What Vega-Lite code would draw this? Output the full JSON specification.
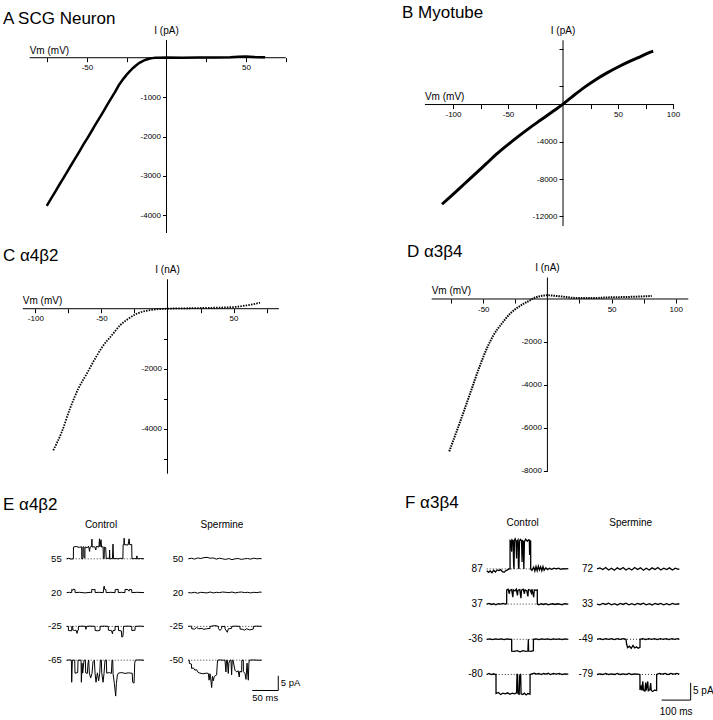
{
"$schema":"https://vega.github.io/schema/vega-lite/v6.json",
"background":"white",
"padding":{"left":3,"top":3,"right":0,"bottom":0},
"bounds":"flush",
"columns":2,
"spacing":{"row":44,"column":100},
"resolve":{"scale":{"xOffset":"independent","yOffset":"independent"}},
"config":{"view":{"stroke":null},"font":"Liberation Sans",
 "axis":{"domain":false,"grid":false,"tickColor":"black","tickSize":4,"tickWidth":1,"labelColor":"black","labelFontSize":8,"labelPadding":2,"labelOverlap":false,"labelFlush":false},
 "title":{"fontWeight":"normal","color":"black","anchor":"start","frame":"group","baseline":"alphabetic","fontSize":17}},
"datasets":{
"eTr":[
{"c":"Control","r":"r1","t":0,"i":0},{"c":"Control","r":"r1","t":4,"i":0.2},{"c":"Control","r":"r1","t":8,"i":-0.1},{"c":"Control","r":"r1","t":12.8,"i":0},{"c":"Control","r":"r1","t":13,"i":4.0},{"c":"Control","r":"r1","t":18,"i":4.2},{"c":"Control","r":"r1","t":24,"i":3.9},{"c":"Control","r":"r1","t":28.8,"i":4.1},{"c":"Control","r":"r1","t":29,"i":0},{"c":"Control","r":"r1","t":31,"i":0},{"c":"Control","r":"r1","t":31.2,"i":4.0},{"c":"Control","r":"r1","t":33,"i":4.1},{"c":"Control","r":"r1","t":33.2,"i":0.5},{"c":"Control","r":"r1","t":35,"i":0.3},{"c":"Control","r":"r1","t":35.2,"i":4.0},{"c":"Control","r":"r1","t":40,"i":3.8},{"c":"Control","r":"r1","t":42,"i":4.3},{"c":"Control","r":"r1","t":44,"i":2.5},{"c":"Control","r":"r1","t":45,"i":4.0},{"c":"Control","r":"r1","t":48,"i":4.2},{"c":"Control","r":"r1","t":48.5,"i":6.7},{"c":"Control","r":"r1","t":49,"i":4.0},{"c":"Control","r":"r1","t":54,"i":4.1},{"c":"Control","r":"r1","t":56,"i":3.0},{"c":"Control","r":"r1","t":57,"i":4.2},{"c":"Control","r":"r1","t":62,"i":4.0},{"c":"Control","r":"r1","t":63,"i":6.8},{"c":"Control","r":"r1","t":64,"i":4.1},{"c":"Control","r":"r1","t":66,"i":6.5},{"c":"Control","r":"r1","t":67,"i":4.0},{"c":"Control","r":"r1","t":70,"i":4.1},{"c":"Control","r":"r1","t":70.5,"i":0.2},{"c":"Control","r":"r1","t":72,"i":0},{"c":"Control","r":"r1","t":72.5,"i":4.0},{"c":"Control","r":"r1","t":75,"i":3.8},{"c":"Control","r":"r1","t":76,"i":0.1},{"c":"Control","r":"r1","t":80,"i":0.2},{"c":"Control","r":"r1","t":82,"i":0},{"c":"Control","r":"r1","t":82.5,"i":3.0},{"c":"Control","r":"r1","t":83,"i":0},{"c":"Control","r":"r1","t":88,"i":0.1},{"c":"Control","r":"r1","t":89,"i":5.0},{"c":"Control","r":"r1","t":90,"i":0},{"c":"Control","r":"r1","t":93,"i":0.1},{"c":"Control","r":"r1","t":100,"i":0},{"c":"Control","r":"r1","t":104,"i":0.2},{"c":"Control","r":"r1","t":108,"i":0},{"c":"Control","r":"r1","t":108.5,"i":4.8},{"c":"Control","r":"r1","t":110,"i":4.9},{"c":"Control","r":"r1","t":110.5,"i":7.0},{"c":"Control","r":"r1","t":111,"i":4.8},{"c":"Control","r":"r1","t":118,"i":4.7},{"c":"Control","r":"r1","t":120,"i":6.8},{"c":"Control","r":"r1","t":121,"i":4.8},{"c":"Control","r":"r1","t":125,"i":4.9},{"c":"Control","r":"r1","t":125.5,"i":0},{"c":"Control","r":"r1","t":130,"i":0.1},{"c":"Control","r":"r1","t":134,"i":0},{"c":"Control","r":"r1","t":135,"i":1.0},{"c":"Control","r":"r1","t":136,"i":0},{"c":"Control","r":"r1","t":142,"i":0.1},{"c":"Control","r":"r1","t":148.7,"i":0},
{"c":"Control","r":"r2","t":0,"i":0},{"c":"Control","r":"r2","t":5,"i":0.1},{"c":"Control","r":"r2","t":9.6,"i":0},{"c":"Control","r":"r2","t":9.8,"i":1.1},{"c":"Control","r":"r2","t":12,"i":0.8},{"c":"Control","r":"r2","t":13,"i":1.2},{"c":"Control","r":"r2","t":16,"i":1.0},{"c":"Control","r":"r2","t":16.2,"i":0},{"c":"Control","r":"r2","t":25,"i":0.1},{"c":"Control","r":"r2","t":35,"i":-0.1},{"c":"Control","r":"r2","t":45,"i":0.1},{"c":"Control","r":"r2","t":48,"i":0},{"c":"Control","r":"r2","t":48.2,"i":1.1},{"c":"Control","r":"r2","t":51,"i":1.0},{"c":"Control","r":"r2","t":54.5,"i":1.1},{"c":"Control","r":"r2","t":54.7,"i":0},{"c":"Control","r":"r2","t":62,"i":0.1},{"c":"Control","r":"r2","t":70.5,"i":0},{"c":"Control","r":"r2","t":70.7,"i":1.0},{"c":"Control","r":"r2","t":72,"i":2.2},{"c":"Control","r":"r2","t":73,"i":1.1},{"c":"Control","r":"r2","t":75.6,"i":1.0},{"c":"Control","r":"r2","t":75.8,"i":0},{"c":"Control","r":"r2","t":85,"i":0.1},{"c":"Control","r":"r2","t":93,"i":0},{"c":"Control","r":"r2","t":93.2,"i":1.0},{"c":"Control","r":"r2","t":99,"i":1.1},{"c":"Control","r":"r2","t":99.2,"i":0},{"c":"Control","r":"r2","t":105,"i":0.1},{"c":"Control","r":"r2","t":112,"i":0},{"c":"Control","r":"r2","t":112.2,"i":1.1},{"c":"Control","r":"r2","t":118,"i":1.0},{"c":"Control","r":"r2","t":120,"i":0.5},{"c":"Control","r":"r2","t":121,"i":1.1},{"c":"Control","r":"r2","t":125,"i":1.0},{"c":"Control","r":"r2","t":125.2,"i":0},{"c":"Control","r":"r2","t":135,"i":0.1},{"c":"Control","r":"r2","t":148.7,"i":0},
{"c":"Control","r":"r3","t":0,"i":0},{"c":"Control","r":"r3","t":3.2,"i":0},{"c":"Control","r":"r3","t":3.4,"i":-1.4},{"c":"Control","r":"r3","t":9.6,"i":-1.5},{"c":"Control","r":"r3","t":9.8,"i":0},{"c":"Control","r":"r3","t":11.5,"i":0},{"c":"Control","r":"r3","t":11.7,"i":-1.2},{"c":"Control","r":"r3","t":15,"i":-1.4},{"c":"Control","r":"r3","t":18,"i":-1.3},{"c":"Control","r":"r3","t":20,"i":-2.4},{"c":"Control","r":"r3","t":21,"i":-1.4},{"c":"Control","r":"r3","t":22.4,"i":-1.3},{"c":"Control","r":"r3","t":22.6,"i":0},{"c":"Control","r":"r3","t":30,"i":0.1},{"c":"Control","r":"r3","t":36,"i":0},{"c":"Control","r":"r3","t":37,"i":-1.0},{"c":"Control","r":"r3","t":38,"i":0},{"c":"Control","r":"r3","t":45,"i":0.1},{"c":"Control","r":"r3","t":54.5,"i":0},{"c":"Control","r":"r3","t":54.7,"i":-1.4},{"c":"Control","r":"r3","t":60,"i":-1.5},{"c":"Control","r":"r3","t":64,"i":-1.3},{"c":"Control","r":"r3","t":64.2,"i":0},{"c":"Control","r":"r3","t":72,"i":0.1},{"c":"Control","r":"r3","t":80,"i":0},{"c":"Control","r":"r3","t":80.2,"i":-1.3},{"c":"Control","r":"r3","t":86,"i":-1.4},{"c":"Control","r":"r3","t":88,"i":-2.5},{"c":"Control","r":"r3","t":89,"i":-1.4},{"c":"Control","r":"r3","t":93,"i":-1.3},{"c":"Control","r":"r3","t":93.2,"i":0},{"c":"Control","r":"r3","t":99.4,"i":0},{"c":"Control","r":"r3","t":99.6,"i":-1.4},{"c":"Control","r":"r3","t":105,"i":-1.5},{"c":"Control","r":"r3","t":106,"i":-3.6},{"c":"Control","r":"r3","t":108,"i":-3.5},{"c":"Control","r":"r3","t":109,"i":-1.4},{"c":"Control","r":"r3","t":109.2,"i":0},{"c":"Control","r":"r3","t":117,"i":0.1},{"c":"Control","r":"r3","t":125,"i":0},{"c":"Control","r":"r3","t":125.2,"i":-1.4},{"c":"Control","r":"r3","t":131.4,"i":-1.3},{"c":"Control","r":"r3","t":131.6,"i":0},{"c":"Control","r":"r3","t":140,"i":0.1},{"c":"Control","r":"r3","t":148.7,"i":0},
{"c":"Control","r":"r4","t":0,"i":0},{"c":"Control","r":"r4","t":6.4,"i":0.1},{"c":"Control","r":"r4","t":9,"i":0},{"c":"Control","r":"r4","t":9.6,"i":-7.5},{"c":"Control","r":"r4","t":10.9,"i":0},{"c":"Control","r":"r4","t":15.4,"i":0},{"c":"Control","r":"r4","t":16,"i":-4.4},{"c":"Control","r":"r4","t":21.2,"i":-4.2},{"c":"Control","r":"r4","t":21.8,"i":0},{"c":"Control","r":"r4","t":27.6,"i":0},{"c":"Control","r":"r4","t":28.2,"i":-7.5},{"c":"Control","r":"r4","t":29.5,"i":-1},{"c":"Control","r":"r4","t":30.8,"i":-4.4},{"c":"Control","r":"r4","t":33.3,"i":0},{"c":"Control","r":"r4","t":35.9,"i":0},{"c":"Control","r":"r4","t":36.5,"i":-4.3},{"c":"Control","r":"r4","t":39.7,"i":-4.5},{"c":"Control","r":"r4","t":41,"i":-1.0},{"c":"Control","r":"r4","t":42.3,"i":0},{"c":"Control","r":"r4","t":43.6,"i":-4.4},{"c":"Control","r":"r4","t":46.1,"i":-6},{"c":"Control","r":"r4","t":48.7,"i":-4.5},{"c":"Control","r":"r4","t":50.6,"i":-0.5},{"c":"Control","r":"r4","t":53.2,"i":0},{"c":"Control","r":"r4","t":54.5,"i":-4.4},{"c":"Control","r":"r4","t":56.4,"i":-7.5},{"c":"Control","r":"r4","t":59,"i":-4.3},{"c":"Control","r":"r4","t":61.5,"i":-7.0},{"c":"Control","r":"r4","t":63.5,"i":-4.5},{"c":"Control","r":"r4","t":64.7,"i":0},{"c":"Control","r":"r4","t":66.7,"i":0},{"c":"Control","r":"r4","t":67.3,"i":-4.2},{"c":"Control","r":"r4","t":69.9,"i":-7.5},{"c":"Control","r":"r4","t":71.8,"i":-4.4},{"c":"Control","r":"r4","t":73.7,"i":0},{"c":"Control","r":"r4","t":76.3,"i":0},{"c":"Control","r":"r4","t":76.9,"i":-4.4},{"c":"Control","r":"r4","t":82,"i":-4.2},{"c":"Control","r":"r4","t":85.9,"i":-4.5},{"c":"Control","r":"r4","t":87.2,"i":0},{"c":"Control","r":"r4","t":88.5,"i":0},{"c":"Control","r":"r4","t":89.1,"i":-4.5},{"c":"Control","r":"r4","t":91.7,"i":-8},{"c":"Control","r":"r4","t":94.2,"i":-12.2},{"c":"Control","r":"r4","t":95.5,"i":-8},{"c":"Control","r":"r4","t":97.5,"i":-5},{"c":"Control","r":"r4","t":99.4,"i":-4.4},{"c":"Control","r":"r4","t":105.8,"i":-4.2},{"c":"Control","r":"r4","t":112,"i":-4.5},{"c":"Control","r":"r4","t":118.3,"i":-4.3},{"c":"Control","r":"r4","t":123.4,"i":-4.4},{"c":"Control","r":"r4","t":125.9,"i":-4.4},{"c":"Control","r":"r4","t":126.9,"i":-7.5},{"c":"Control","r":"r4","t":129.5,"i":-7.8},{"c":"Control","r":"r4","t":130.8,"i":-1},{"c":"Control","r":"r4","t":132,"i":0},{"c":"Control","r":"r4","t":137.8,"i":0.1},{"c":"Control","r":"r4","t":148.7,"i":0},
{"c":"Spermine","r":"r1","t":0,"i":0},{"c":"Spermine","r":"r1","t":6,"i":0.2},{"c":"Spermine","r":"r1","t":12,"i":-0.1},{"c":"Spermine","r":"r1","t":18,"i":0.3},{"c":"Spermine","r":"r1","t":24,"i":0.1},{"c":"Spermine","r":"r1","t":30,"i":0.4},{"c":"Spermine","r":"r1","t":36,"i":0.5},{"c":"Spermine","r":"r1","t":42,"i":0.2},{"c":"Spermine","r":"r1","t":48,"i":0.3},{"c":"Spermine","r":"r1","t":54,"i":-0.1},{"c":"Spermine","r":"r1","t":60,"i":0.2},{"c":"Spermine","r":"r1","t":66,"i":0},{"c":"Spermine","r":"r1","t":72,"i":-0.2},{"c":"Spermine","r":"r1","t":78,"i":0.1},{"c":"Spermine","r":"r1","t":84,"i":-0.3},{"c":"Spermine","r":"r1","t":90,"i":0},{"c":"Spermine","r":"r1","t":96,"i":0.1},{"c":"Spermine","r":"r1","t":102,"i":-0.2},{"c":"Spermine","r":"r1","t":108,"i":0},{"c":"Spermine","r":"r1","t":114,"i":0.1},{"c":"Spermine","r":"r1","t":120,"i":-0.1},{"c":"Spermine","r":"r1","t":126,"i":0.2},{"c":"Spermine","r":"r1","t":132,"i":0},{"c":"Spermine","r":"r1","t":138,"i":0.1},{"c":"Spermine","r":"r1","t":141,"i":0},
{"c":"Spermine","r":"r2","t":0,"i":0},{"c":"Spermine","r":"r2","t":6,"i":-0.1},{"c":"Spermine","r":"r2","t":12,"i":0.1},{"c":"Spermine","r":"r2","t":18,"i":-0.2},{"c":"Spermine","r":"r2","t":24,"i":0.1},{"c":"Spermine","r":"r2","t":30,"i":0},{"c":"Spermine","r":"r2","t":36,"i":-0.1},{"c":"Spermine","r":"r2","t":42,"i":0.2},{"c":"Spermine","r":"r2","t":48,"i":-0.1},{"c":"Spermine","r":"r2","t":54,"i":0.1},{"c":"Spermine","r":"r2","t":60,"i":0},{"c":"Spermine","r":"r2","t":66,"i":0.2},{"c":"Spermine","r":"r2","t":72,"i":0.1},{"c":"Spermine","r":"r2","t":78,"i":0},{"c":"Spermine","r":"r2","t":84,"i":0.2},{"c":"Spermine","r":"r2","t":90,"i":-0.1},{"c":"Spermine","r":"r2","t":96,"i":0.1},{"c":"Spermine","r":"r2","t":102,"i":0.2},{"c":"Spermine","r":"r2","t":108,"i":0},{"c":"Spermine","r":"r2","t":114,"i":0.1},{"c":"Spermine","r":"r2","t":120,"i":-0.1},{"c":"Spermine","r":"r2","t":126,"i":0.1},{"c":"Spermine","r":"r2","t":132,"i":0},{"c":"Spermine","r":"r2","t":138,"i":0.2},{"c":"Spermine","r":"r2","t":141,"i":0.1},
{"c":"Spermine","r":"r3","t":0,"i":0},{"c":"Spermine","r":"r3","t":5,"i":0.1},{"c":"Spermine","r":"r3","t":6.4,"i":0},{"c":"Spermine","r":"r3","t":6.6,"i":-0.8},{"c":"Spermine","r":"r3","t":12,"i":-0.9},{"c":"Spermine","r":"r3","t":16,"i":-0.4},{"c":"Spermine","r":"r3","t":20,"i":-0.8},{"c":"Spermine","r":"r3","t":26,"i":-0.7},{"c":"Spermine","r":"r3","t":30,"i":-1.0},{"c":"Spermine","r":"r3","t":35,"i":-0.8},{"c":"Spermine","r":"r3","t":41.7,"i":-0.7},{"c":"Spermine","r":"r3","t":41.9,"i":0},{"c":"Spermine","r":"r3","t":48,"i":0.2},{"c":"Spermine","r":"r3","t":52,"i":0.3},{"c":"Spermine","r":"r3","t":57.7,"i":0},{"c":"Spermine","r":"r3","t":57.9,"i":-0.7},{"c":"Spermine","r":"r3","t":61,"i":-1.4},{"c":"Spermine","r":"r3","t":64.1,"i":-0.7},{"c":"Spermine","r":"r3","t":64.3,"i":0},{"c":"Spermine","r":"r3","t":70.5,"i":0},{"c":"Spermine","r":"r3","t":70.7,"i":-0.8},{"c":"Spermine","r":"r3","t":75,"i":-2.0},{"c":"Spermine","r":"r3","t":77,"i":-0.8},{"c":"Spermine","r":"r3","t":83.3,"i":-0.7},{"c":"Spermine","r":"r3","t":83.5,"i":0},{"c":"Spermine","r":"r3","t":90,"i":0.1},{"c":"Spermine","r":"r3","t":99.4,"i":0},{"c":"Spermine","r":"r3","t":99.6,"i":-0.9},{"c":"Spermine","r":"r3","t":105,"i":-1.0},{"c":"Spermine","r":"r3","t":108,"i":-1.3},{"c":"Spermine","r":"r3","t":112,"i":-0.8},{"c":"Spermine","r":"r3","t":118,"i":-1.2},{"c":"Spermine","r":"r3","t":125,"i":-0.9},{"c":"Spermine","r":"r3","t":125.2,"i":0},{"c":"Spermine","r":"r3","t":132,"i":0.1},{"c":"Spermine","r":"r3","t":141,"i":0},
{"c":"Spermine","r":"r4","t":0,"i":0},{"c":"Spermine","r":"r4","t":1.9,"i":0},{"c":"Spermine","r":"r4","t":2,"i":-1.1},{"c":"Spermine","r":"r4","t":6,"i":-1.3},{"c":"Spermine","r":"r4","t":6.4,"i":-2.8},{"c":"Spermine","r":"r4","t":9.6,"i":-2.6},{"c":"Spermine","r":"r4","t":12.8,"i":-3.4},{"c":"Spermine","r":"r4","t":16,"i":-3.2},{"c":"Spermine","r":"r4","t":18,"i":-4.0},{"c":"Spermine","r":"r4","t":22.4,"i":-4.4},{"c":"Spermine","r":"r4","t":28,"i":-4.6},{"c":"Spermine","r":"r4","t":35.3,"i":-4.4},{"c":"Spermine","r":"r4","t":38.5,"i":-4.5},{"c":"Spermine","r":"r4","t":40,"i":-6.8},{"c":"Spermine","r":"r4","t":41.7,"i":-4.6},{"c":"Spermine","r":"r4","t":43,"i":-6.0},{"c":"Spermine","r":"r4","t":44.9,"i":-9.3},{"c":"Spermine","r":"r4","t":46.5,"i":-5.5},{"c":"Spermine","r":"r4","t":48.1,"i":-7.0},{"c":"Spermine","r":"r4","t":50,"i":-5.5},{"c":"Spermine","r":"r4","t":54.5,"i":-5.0},{"c":"Spermine","r":"r4","t":55.8,"i":-1.0},{"c":"Spermine","r":"r4","t":56.5,"i":0},{"c":"Spermine","r":"r4","t":60.9,"i":0.1},{"c":"Spermine","r":"r4","t":66,"i":0},{"c":"Spermine","r":"r4","t":70.5,"i":0},{"c":"Spermine","r":"r4","t":72.4,"i":-4.0},{"c":"Spermine","r":"r4","t":73.5,"i":0},{"c":"Spermine","r":"r4","t":75,"i":0},{"c":"Spermine","r":"r4","t":76.9,"i":-4.5},{"c":"Spermine","r":"r4","t":78,"i":-1},{"c":"Spermine","r":"r4","t":80.1,"i":0},{"c":"Spermine","r":"r4","t":82,"i":0},{"c":"Spermine","r":"r4","t":83.3,"i":-5.0},{"c":"Spermine","r":"r4","t":84.5,"i":0},{"c":"Spermine","r":"r4","t":86,"i":0},{"c":"Spermine","r":"r4","t":89.7,"i":-3.4},{"c":"Spermine","r":"r4","t":93,"i":-4.0},{"c":"Spermine","r":"r4","t":96,"i":-3.6},{"c":"Spermine","r":"r4","t":98,"i":-5.7},{"c":"Spermine","r":"r4","t":99,"i":-3.8},{"c":"Spermine","r":"r4","t":102.6,"i":-4.0},{"c":"Spermine","r":"r4","t":103,"i":0},{"c":"Spermine","r":"r4","t":105.8,"i":0},{"c":"Spermine","r":"r4","t":106,"i":-3.9},{"c":"Spermine","r":"r4","t":109,"i":-4.5},{"c":"Spermine","r":"r4","t":110.9,"i":-6.5},{"c":"Spermine","r":"r4","t":112,"i":-3.6},{"c":"Spermine","r":"r4","t":113,"i":-1},{"c":"Spermine","r":"r4","t":114,"i":-4.0},{"c":"Spermine","r":"r4","t":115.4,"i":-6.8},{"c":"Spermine","r":"r4","t":116.5,"i":-1},{"c":"Spermine","r":"r4","t":117.3,"i":0},{"c":"Spermine","r":"r4","t":125,"i":0.1},{"c":"Spermine","r":"r4","t":133,"i":0},{"c":"Spermine","r":"r4","t":141,"i":0}
],
"eBase":[
{"c":"Control","r":"r1","t":0,"i":0},{"c":"Control","r":"r1","t":148.7,"i":0},
{"c":"Control","r":"r3","t":0,"i":0},{"c":"Control","r":"r3","t":148.7,"i":0},
{"c":"Control","r":"r4","t":0,"i":0},{"c":"Control","r":"r4","t":148.7,"i":0},
{"c":"Spermine","r":"r3","t":0,"i":0},{"c":"Spermine","r":"r3","t":141,"i":0},
{"c":"Spermine","r":"r4","t":0,"i":0},{"c":"Spermine","r":"r4","t":141,"i":0}
],
"fTr":[
{"c":"Control","r":"r1","t":0,"i":-0.5},{"c":"Control","r":"r1","t":6,"i":-1.0},{"c":"Control","r":"r1","t":12,"i":-0.6},{"c":"Control","r":"r1","t":18,"i":-1.1},{"c":"Control","r":"r1","t":24,"i":-0.4},{"c":"Control","r":"r1","t":30,"i":-0.9},{"c":"Control","r":"r1","t":36,"i":-0.3},{"c":"Control","r":"r1","t":42,"i":-0.5},{"c":"Control","r":"r1","t":48,"i":-0.2},{"c":"Control","r":"r1","t":54,"i":-0.8},{"c":"Control","r":"r1","t":60,"i":-1.0},{"c":"Control","r":"r1","t":66,"i":-0.5},{"c":"Control","r":"r1","t":72,"i":-0.3},{"c":"Control","r":"r1","t":76,"i":0},{"c":"Control","r":"r1","t":80.4,"i":0},{"c":"Control","r":"r1","t":80.6,"i":8.2},{"c":"Control","r":"r1","t":84,"i":8.0},{"c":"Control","r":"r1","t":86,"i":5},{"c":"Control","r":"r1","t":87,"i":8.4},{"c":"Control","r":"r1","t":91,"i":8.1},{"c":"Control","r":"r1","t":93,"i":1},{"c":"Control","r":"r1","t":94.2,"i":0},{"c":"Control","r":"r1","t":95.5,"i":8.3},{"c":"Control","r":"r1","t":98,"i":8.7},{"c":"Control","r":"r1","t":101,"i":8.0},{"c":"Control","r":"r1","t":103,"i":3},{"c":"Control","r":"r1","t":104,"i":7.9},{"c":"Control","r":"r1","t":108,"i":8.4},{"c":"Control","r":"r1","t":109.5,"i":0.5},{"c":"Control","r":"r1","t":111,"i":0},{"c":"Control","r":"r1","t":113,"i":8.0},{"c":"Control","r":"r1","t":116,"i":8.5},{"c":"Control","r":"r1","t":120,"i":8.1},{"c":"Control","r":"r1","t":122,"i":2},{"c":"Control","r":"r1","t":123,"i":8.2},{"c":"Control","r":"r1","t":126,"i":8.0},{"c":"Control","r":"r1","t":128,"i":0},{"c":"Control","r":"r1","t":130,"i":7.8},{"c":"Control","r":"r1","t":134,"i":8.6},{"c":"Control","r":"r1","t":137,"i":8.3},{"c":"Control","r":"r1","t":140,"i":8.0},{"c":"Control","r":"r1","t":144,"i":8.4},{"c":"Control","r":"r1","t":147,"i":8.2},{"c":"Control","r":"r1","t":148,"i":4},{"c":"Control","r":"r1","t":149,"i":8.2},{"c":"Control","r":"r1","t":151.5,"i":8.0},{"c":"Control","r":"r1","t":151.7,"i":0},{"c":"Control","r":"r1","t":156,"i":-0.4},{"c":"Control","r":"r1","t":162,"i":0.5},{"c":"Control","r":"r1","t":166,"i":-0.6},{"c":"Control","r":"r1","t":170,"i":0.7},{"c":"Control","r":"r1","t":174,"i":-0.5},{"c":"Control","r":"r1","t":178,"i":0.8},{"c":"Control","r":"r1","t":182,"i":-0.3},{"c":"Control","r":"r1","t":186,"i":0.6},{"c":"Control","r":"r1","t":190,"i":-0.5},{"c":"Control","r":"r1","t":194,"i":0.7},{"c":"Control","r":"r1","t":198,"i":-0.4},{"c":"Control","r":"r1","t":204,"i":0.3},{"c":"Control","r":"r1","t":210,"i":-0.2},{"c":"Control","r":"r1","t":216,"i":0.2},{"c":"Control","r":"r1","t":224,"i":-0.1},{"c":"Control","r":"r1","t":232,"i":0.2},{"c":"Control","r":"r1","t":240,"i":0},{"c":"Control","r":"r1","t":248,"i":0.2},{"c":"Control","r":"r1","t":256,"i":-0.1},{"c":"Control","r":"r1","t":264,"i":0.1},{"c":"Control","r":"r1","t":272,"i":0},{"c":"Control","r":"r1","t":281,"i":0.1},
{"c":"Control","r":"r2","t":0,"i":0},{"c":"Control","r":"r2","t":8,"i":0.2},{"c":"Control","r":"r2","t":16,"i":-0.1},{"c":"Control","r":"r2","t":24,"i":0.1},{"c":"Control","r":"r2","t":32,"i":-0.2},{"c":"Control","r":"r2","t":40,"i":0.1},{"c":"Control","r":"r2","t":48,"i":0},{"c":"Control","r":"r2","t":56,"i":0.2},{"c":"Control","r":"r2","t":64,"i":0},{"c":"Control","r":"r2","t":68.8,"i":0.1},{"c":"Control","r":"r2","t":69,"i":4.1},{"c":"Control","r":"r2","t":74,"i":4.3},{"c":"Control","r":"r2","t":78,"i":3.0},{"c":"Control","r":"r2","t":80,"i":4.0},{"c":"Control","r":"r2","t":86,"i":4.2},{"c":"Control","r":"r2","t":90,"i":2.0},{"c":"Control","r":"r2","t":92,"i":4.1},{"c":"Control","r":"r2","t":98,"i":3.8},{"c":"Control","r":"r2","t":102,"i":4.3},{"c":"Control","r":"r2","t":106,"i":2.5},{"c":"Control","r":"r2","t":108,"i":4.0},{"c":"Control","r":"r2","t":114,"i":4.2},{"c":"Control","r":"r2","t":118,"i":1.7},{"c":"Control","r":"r2","t":120,"i":4.0},{"c":"Control","r":"r2","t":126,"i":4.3},{"c":"Control","r":"r2","t":130,"i":3.0},{"c":"Control","r":"r2","t":132,"i":4.1},{"c":"Control","r":"r2","t":138,"i":3.9},{"c":"Control","r":"r2","t":142,"i":2.2},{"c":"Control","r":"r2","t":144,"i":4.2},{"c":"Control","r":"r2","t":150,"i":4.0},{"c":"Control","r":"r2","t":154,"i":3.2},{"c":"Control","r":"r2","t":156,"i":4.3},{"c":"Control","r":"r2","t":162,"i":2.0},{"c":"Control","r":"r2","t":164,"i":4.1},{"c":"Control","r":"r2","t":170,"i":4.0},{"c":"Control","r":"r2","t":174.4,"i":4.1},{"c":"Control","r":"r2","t":174.6,"i":0},{"c":"Control","r":"r2","t":180,"i":-0.2},{"c":"Control","r":"r2","t":188,"i":0.1},{"c":"Control","r":"r2","t":196,"i":-0.1},{"c":"Control","r":"r2","t":204,"i":0.1},{"c":"Control","r":"r2","t":212,"i":-0.2},{"c":"Control","r":"r2","t":220,"i":0},{"c":"Control","r":"r2","t":228,"i":0.1},{"c":"Control","r":"r2","t":236,"i":-0.1},{"c":"Control","r":"r2","t":244,"i":0.1},{"c":"Control","r":"r2","t":252,"i":0},{"c":"Control","r":"r2","t":260,"i":-0.2},{"c":"Control","r":"r2","t":268,"i":0.1},{"c":"Control","r":"r2","t":281,"i":0},
{"c":"Control","r":"r3","t":0,"i":0},{"c":"Control","r":"r3","t":10,"i":0.1},{"c":"Control","r":"r3","t":20,"i":-0.1},{"c":"Control","r":"r3","t":30,"i":0.1},{"c":"Control","r":"r3","t":40,"i":0},{"c":"Control","r":"r3","t":50,"i":0.1},{"c":"Control","r":"r3","t":60,"i":-0.1},{"c":"Control","r":"r3","t":70,"i":0.1},{"c":"Control","r":"r3","t":80,"i":0},{"c":"Control","r":"r3","t":86,"i":0},{"c":"Control","r":"r3","t":86.2,"i":-3.4},{"c":"Control","r":"r3","t":95,"i":-3.5},{"c":"Control","r":"r3","t":105,"i":-3.3},{"c":"Control","r":"r3","t":115,"i":-3.6},{"c":"Control","r":"r3","t":125,"i":-3.3},{"c":"Control","r":"r3","t":135,"i":-3.5},{"c":"Control","r":"r3","t":142,"i":-3.4},{"c":"Control","r":"r3","t":143.6,"i":0},{"c":"Control","r":"r3","t":144.5,"i":-3.4},{"c":"Control","r":"r3","t":152,"i":-3.5},{"c":"Control","r":"r3","t":160.9,"i":-3.3},{"c":"Control","r":"r3","t":161.1,"i":0},{"c":"Control","r":"r3","t":170,"i":0.1},{"c":"Control","r":"r3","t":180,"i":-0.1},{"c":"Control","r":"r3","t":190,"i":0.1},{"c":"Control","r":"r3","t":200,"i":0},{"c":"Control","r":"r3","t":210,"i":0.1},{"c":"Control","r":"r3","t":220,"i":-0.1},{"c":"Control","r":"r3","t":230,"i":0.1},{"c":"Control","r":"r3","t":240,"i":0},{"c":"Control","r":"r3","t":250,"i":0.1},{"c":"Control","r":"r3","t":260,"i":-0.1},{"c":"Control","r":"r3","t":270,"i":0.1},{"c":"Control","r":"r3","t":281,"i":0},
{"c":"Control","r":"r4","t":0,"i":0},{"c":"Control","r":"r4","t":8,"i":0.3},{"c":"Control","r":"r4","t":16,"i":0},{"c":"Control","r":"r4","t":24,"i":0.2},{"c":"Control","r":"r4","t":30,"i":0},{"c":"Control","r":"r4","t":32,"i":0},{"c":"Control","r":"r4","t":32.2,"i":-5.5},{"c":"Control","r":"r4","t":40,"i":-5.2},{"c":"Control","r":"r4","t":48,"i":-5.8},{"c":"Control","r":"r4","t":56,"i":-5.4},{"c":"Control","r":"r4","t":64,"i":-5.6},{"c":"Control","r":"r4","t":72,"i":-5.3},{"c":"Control","r":"r4","t":80,"i":-5.7},{"c":"Control","r":"r4","t":88,"i":-5.4},{"c":"Control","r":"r4","t":96,"i":-5.6},{"c":"Control","r":"r4","t":103,"i":-5.3},{"c":"Control","r":"r4","t":104.5,"i":0},{"c":"Control","r":"r4","t":106.5,"i":0},{"c":"Control","r":"r4","t":108,"i":-5.5},{"c":"Control","r":"r4","t":112,"i":-5.7},{"c":"Control","r":"r4","t":114,"i":0},{"c":"Control","r":"r4","t":116,"i":-1},{"c":"Control","r":"r4","t":117,"i":0.2},{"c":"Control","r":"r4","t":118.5,"i":-5.6},{"c":"Control","r":"r4","t":124,"i":-5.8},{"c":"Control","r":"r4","t":130,"i":-5.4},{"c":"Control","r":"r4","t":136,"i":-5.9},{"c":"Control","r":"r4","t":142,"i":-5.5},{"c":"Control","r":"r4","t":149.4,"i":-5.7},{"c":"Control","r":"r4","t":149.6,"i":0},{"c":"Control","r":"r4","t":156,"i":0.2},{"c":"Control","r":"r4","t":164,"i":0.4},{"c":"Control","r":"r4","t":172,"i":0.1},{"c":"Control","r":"r4","t":180,"i":0.3},{"c":"Control","r":"r4","t":188,"i":0},{"c":"Control","r":"r4","t":196,"i":0.3},{"c":"Control","r":"r4","t":204,"i":0.1},{"c":"Control","r":"r4","t":212,"i":0.4},{"c":"Control","r":"r4","t":220,"i":0},{"c":"Control","r":"r4","t":230,"i":0.3},{"c":"Control","r":"r4","t":240,"i":0.1},{"c":"Control","r":"r4","t":250,"i":0.3},{"c":"Control","r":"r4","t":260,"i":0},{"c":"Control","r":"r4","t":270,"i":0.2},{"c":"Control","r":"r4","t":281,"i":0.1},
{"c":"Spermine","r":"r1","t":0,"i":0},{"c":"Spermine","r":"r1","t":10,"i":0.3},{"c":"Spermine","r":"r1","t":20,"i":-0.2},{"c":"Spermine","r":"r1","t":30,"i":0.4},{"c":"Spermine","r":"r1","t":40,"i":-0.3},{"c":"Spermine","r":"r1","t":50,"i":0.2},{"c":"Spermine","r":"r1","t":60,"i":-0.4},{"c":"Spermine","r":"r1","t":70,"i":0.3},{"c":"Spermine","r":"r1","t":80,"i":-0.2},{"c":"Spermine","r":"r1","t":90,"i":0.4},{"c":"Spermine","r":"r1","t":100,"i":-0.3},{"c":"Spermine","r":"r1","t":110,"i":0.2},{"c":"Spermine","r":"r1","t":120,"i":-0.3},{"c":"Spermine","r":"r1","t":130,"i":0.4},{"c":"Spermine","r":"r1","t":140,"i":-0.2},{"c":"Spermine","r":"r1","t":150,"i":0.3},{"c":"Spermine","r":"r1","t":160,"i":-0.4},{"c":"Spermine","r":"r1","t":170,"i":0.2},{"c":"Spermine","r":"r1","t":180,"i":-0.3},{"c":"Spermine","r":"r1","t":190,"i":0.3},{"c":"Spermine","r":"r1","t":200,"i":-0.2},{"c":"Spermine","r":"r1","t":210,"i":0.4},{"c":"Spermine","r":"r1","t":220,"i":-0.3},{"c":"Spermine","r":"r1","t":230,"i":0.2},{"c":"Spermine","r":"r1","t":240,"i":-0.2},{"c":"Spermine","r":"r1","t":250,"i":0.3},{"c":"Spermine","r":"r1","t":260,"i":-0.3},{"c":"Spermine","r":"r1","t":270,"i":0.2},{"c":"Spermine","r":"r1","t":280,"i":-0.1},{"c":"Spermine","r":"r1","t":284,"i":0},
{"c":"Spermine","r":"r2","t":0,"i":0},{"c":"Spermine","r":"r2","t":10,"i":-0.2},{"c":"Spermine","r":"r2","t":20,"i":0.2},{"c":"Spermine","r":"r2","t":30,"i":-0.1},{"c":"Spermine","r":"r2","t":40,"i":0.25},{"c":"Spermine","r":"r2","t":50,"i":-0.2},{"c":"Spermine","r":"r2","t":60,"i":0.1},{"c":"Spermine","r":"r2","t":70,"i":-0.25},{"c":"Spermine","r":"r2","t":80,"i":0.2},{"c":"Spermine","r":"r2","t":90,"i":-0.1},{"c":"Spermine","r":"r2","t":100,"i":0.25},{"c":"Spermine","r":"r2","t":110,"i":-0.2},{"c":"Spermine","r":"r2","t":120,"i":0.1},{"c":"Spermine","r":"r2","t":130,"i":-0.2},{"c":"Spermine","r":"r2","t":140,"i":0.2},{"c":"Spermine","r":"r2","t":150,"i":-0.1},{"c":"Spermine","r":"r2","t":160,"i":0.25},{"c":"Spermine","r":"r2","t":170,"i":-0.2},{"c":"Spermine","r":"r2","t":180,"i":0.1},{"c":"Spermine","r":"r2","t":190,"i":-0.25},{"c":"Spermine","r":"r2","t":200,"i":0.2},{"c":"Spermine","r":"r2","t":210,"i":-0.1},{"c":"Spermine","r":"r2","t":220,"i":0.2},{"c":"Spermine","r":"r2","t":230,"i":-0.2},{"c":"Spermine","r":"r2","t":240,"i":0.1},{"c":"Spermine","r":"r2","t":250,"i":-0.2},{"c":"Spermine","r":"r2","t":260,"i":0.2},{"c":"Spermine","r":"r2","t":270,"i":-0.1},{"c":"Spermine","r":"r2","t":280,"i":0.1},{"c":"Spermine","r":"r2","t":284,"i":0},
{"c":"Spermine","r":"r3","t":0,"i":0},{"c":"Spermine","r":"r3","t":10,"i":0.2},{"c":"Spermine","r":"r3","t":20,"i":-0.1},{"c":"Spermine","r":"r3","t":30,"i":0.2},{"c":"Spermine","r":"r3","t":40,"i":0},{"c":"Spermine","r":"r3","t":50,"i":0.2},{"c":"Spermine","r":"r3","t":60,"i":-0.1},{"c":"Spermine","r":"r3","t":70,"i":0.2},{"c":"Spermine","r":"r3","t":80,"i":0},{"c":"Spermine","r":"r3","t":90,"i":0.2},{"c":"Spermine","r":"r3","t":100,"i":0},{"c":"Spermine","r":"r3","t":102.3,"i":-1.5},{"c":"Spermine","r":"r3","t":105.7,"i":-2.4},{"c":"Spermine","r":"r3","t":112,"i":-2.0},{"c":"Spermine","r":"r3","t":118,"i":-2.6},{"c":"Spermine","r":"r3","t":124,"i":-1.8},{"c":"Spermine","r":"r3","t":130,"i":-2.5},{"c":"Spermine","r":"r3","t":136,"i":-2.2},{"c":"Spermine","r":"r3","t":142,"i":-2.6},{"c":"Spermine","r":"r3","t":148.2,"i":-2.3},{"c":"Spermine","r":"r3","t":148.4,"i":0},{"c":"Spermine","r":"r3","t":158,"i":0.2},{"c":"Spermine","r":"r3","t":168,"i":-0.1},{"c":"Spermine","r":"r3","t":178,"i":0.2},{"c":"Spermine","r":"r3","t":188,"i":0},{"c":"Spermine","r":"r3","t":198,"i":0.2},{"c":"Spermine","r":"r3","t":208,"i":-0.1},{"c":"Spermine","r":"r3","t":218,"i":0.2},{"c":"Spermine","r":"r3","t":228,"i":0},{"c":"Spermine","r":"r3","t":238,"i":0.2},{"c":"Spermine","r":"r3","t":248,"i":-0.1},{"c":"Spermine","r":"r3","t":258,"i":0.2},{"c":"Spermine","r":"r3","t":268,"i":0},{"c":"Spermine","r":"r3","t":278,"i":0.2},{"c":"Spermine","r":"r3","t":284,"i":0},
{"c":"Spermine","r":"r4","t":0,"i":0},{"c":"Spermine","r":"r4","t":10,"i":0.2},{"c":"Spermine","r":"r4","t":20,"i":0},{"c":"Spermine","r":"r4","t":30,"i":0.3},{"c":"Spermine","r":"r4","t":40,"i":0},{"c":"Spermine","r":"r4","t":50,"i":0.2},{"c":"Spermine","r":"r4","t":60,"i":0},{"c":"Spermine","r":"r4","t":70,"i":0.3},{"c":"Spermine","r":"r4","t":80,"i":0},{"c":"Spermine","r":"r4","t":90,"i":0.2},{"c":"Spermine","r":"r4","t":100,"i":0},{"c":"Spermine","r":"r4","t":110,"i":0.3},{"c":"Spermine","r":"r4","t":120,"i":0},{"c":"Spermine","r":"r4","t":130,"i":0.2},{"c":"Spermine","r":"r4","t":140,"i":0.1},{"c":"Spermine","r":"r4","t":148,"i":0},{"c":"Spermine","r":"r4","t":148.2,"i":-4.5},{"c":"Spermine","r":"r4","t":152,"i":-3.5},{"c":"Spermine","r":"r4","t":155,"i":-4.6},{"c":"Spermine","r":"r4","t":158,"i":-2.0},{"c":"Spermine","r":"r4","t":160,"i":-4.5},{"c":"Spermine","r":"r4","t":165,"i":-4.8},{"c":"Spermine","r":"r4","t":168,"i":-2.3},{"c":"Spermine","r":"r4","t":170,"i":-4.6},{"c":"Spermine","r":"r4","t":175,"i":-2.0},{"c":"Spermine","r":"r4","t":177,"i":-4.7},{"c":"Spermine","r":"r4","t":182,"i":-4.4},{"c":"Spermine","r":"r4","t":185,"i":-2.5},{"c":"Spermine","r":"r4","t":187,"i":-4.6},{"c":"Spermine","r":"r4","t":192,"i":-4.9},{"c":"Spermine","r":"r4","t":198,"i":-4.5},{"c":"Spermine","r":"r4","t":205.5,"i":-4.6},{"c":"Spermine","r":"r4","t":205.7,"i":0},{"c":"Spermine","r":"r4","t":215,"i":0.3},{"c":"Spermine","r":"r4","t":225,"i":0.1},{"c":"Spermine","r":"r4","t":235,"i":0.3},{"c":"Spermine","r":"r4","t":245,"i":0},{"c":"Spermine","r":"r4","t":255,"i":0.3},{"c":"Spermine","r":"r4","t":265,"i":0.1},{"c":"Spermine","r":"r4","t":275,"i":0.3},{"c":"Spermine","r":"r4","t":284,"i":0.1}
],
"fBase":[
{"c":"Control","r":"r1","t":0,"i":0},{"c":"Control","r":"r1","t":281,"i":0},
{"c":"Control","r":"r2","t":0,"i":0},{"c":"Control","r":"r2","t":281,"i":0},
{"c":"Control","r":"r3","t":0,"i":0},{"c":"Control","r":"r3","t":281,"i":0},
{"c":"Control","r":"r4","t":0,"i":0},{"c":"Control","r":"r4","t":281,"i":0},
{"c":"Spermine","r":"r3","t":0,"i":0},{"c":"Spermine","r":"r3","t":284,"i":0},
{"c":"Spermine","r":"r4","t":0,"i":0},{"c":"Spermine","r":"r4","t":284,"i":0}
]
},
"concat":[
{
 "width":300,"height":193,
 "title":{"text":"A SCG Neuron","offset":-2,"dx":-17},
 "layer":[
  {"data":{"values":[{"v":-75.3,"i":-3764},{"v":-72,"i":-3540},{"v":-70,"i":-3405},{"v":-67,"i":-3200},{"v":-65,"i":-3070},{"v":-62,"i":-2865},{"v":-60,"i":-2730},{"v":-57,"i":-2530},{"v":-55,"i":-2395},{"v":-52,"i":-2190},{"v":-50,"i":-2060},{"v":-47,"i":-1860},{"v":-45,"i":-1720},{"v":-42,"i":-1520},{"v":-40,"i":-1385},{"v":-37,"i":-1180},{"v":-35,"i":-1045},{"v":-32.4,"i":-871},{"v":-30,"i":-700},{"v":-27,"i":-530},{"v":-25,"i":-430},{"v":-23,"i":-340},{"v":-21,"i":-260},{"v":-19,"i":-190},{"v":-17,"i":-130},{"v":-15,"i":-85},{"v":-13,"i":-50},{"v":-11,"i":-25},{"v":-9,"i":-10},{"v":-7,"i":-2},{"v":-5,"i":0},{"v":0,"i":5},{"v":10,"i":0},{"v":20,"i":5},{"v":30,"i":5},{"v":40,"i":15},{"v":45,"i":25},{"v":50,"i":30},{"v":55,"i":20},{"v":60,"i":15},{"v":62,"i":10}]},
   "mark":{"type":"line","color":"black","strokeWidth":2.5},
   "encoding":{
    "x":{"field":"v","type":"quantitative","scale":{"domain":[-92.1,96.5],"nice":false,"zero":false},"axis":{"orient":"bottom","offset":-175.3,"title":null,"values":[-75,-50,-25,25,50,75],"labelExpr":"datum.value % 50 === 0 ? replace(datum.label, '\u2212', '-') : ''"}},
    "y":{"field":"i","type":"quantitative","scale":{"domain":[-4450,450],"nice":false,"zero":false},"axis":{"orient":"left","offset":-146.5,"title":null,"values":[-4000,-3500,-3000,-2500,-2000,-1500,-1000,-500],"labelExpr":"datum.value % 1000 === 0 ? replace(replace(datum.label, '\u2212', '-'), ',', '') : ''"}}}},
  {"data":{"values":[{}]},"mark":{"type":"rule","color":"black","strokeWidth":1},"encoding":{"x":{"datum":-86,"type":"quantitative"},"x2":{"datum":75},"y":{"datum":0,"type":"quantitative"}}},
  {"data":{"values":[{}]},"mark":{"type":"rule","color":"black","strokeWidth":1},"encoding":{"x":{"datum":0,"type":"quantitative"},"y":{"datum":450,"type":"quantitative"},"y2":{"datum":-4450}}},
  {"data":{"values":[{}]},"mark":{"type":"text","text":"Vm (mV)","align":"left","baseline":"bottom","dy":-2,"fontSize":10,"color":"black"},"encoding":{"x":{"datum":-86,"type":"quantitative"},"y":{"datum":0,"type":"quantitative"}}},
  {"data":{"values":[{}]},"mark":{"type":"text","text":"I (pA)","align":"center","baseline":"bottom","dy":-4,"fontSize":10,"color":"black"},"encoding":{"x":{"datum":0,"type":"quantitative"},"y":{"datum":450,"type":"quantitative"}}}
 ]
},
{
 "width":290,"height":193,
 "title":{"text":"B Myotube","offset":4.4,"dx":-18},
 "layer":[
  {"data":{"values":[{"v":-110,"i":-10710},{"v":-100,"i":-9640},{"v":-90,"i":-8560},{"v":-80,"i":-7480},{"v":-70,"i":-6380},{"v":-60,"i":-5280},{"v":-50,"i":-4300},{"v":-40,"i":-3370},{"v":-30,"i":-2480},{"v":-20,"i":-1640},{"v":-10,"i":-800},{"v":0,"i":50},{"v":10,"i":1000},{"v":20,"i":1900},{"v":30,"i":2700},{"v":40,"i":3400},{"v":50,"i":4030},{"v":60,"i":4600},{"v":70,"i":5130},{"v":80,"i":5650},{"v":82,"i":5720}]},
   "mark":{"type":"line","color":"black","strokeWidth":3,"interpolate":"monotone"},
   "encoding":{
    "x":{"field":"v","type":"quantitative","scale":{"domain":[-130,133.6],"nice":false,"zero":false},"axis":{"orient":"bottom","offset":-128.45,"title":null,"values":[-100,-75,-50,-25,25,50,75,100],"labelExpr":"datum.value % 50 === 0 ? replace(datum.label, '\u2212', '-') : ''"}},
    "y":{"field":"i","type":"quantitative","scale":{"domain":[-13797,6931],"nice":false,"zero":false},"axis":{"orient":"left","offset":-143,"title":null,"values":[-12000,-10000,-8000,-6000,-4000,-2000,2000,4000,6000],"labelExpr":"datum.value % 4000 === 0 ? replace(replace(datum.label, '\u2212', '-'), ',', '') : ''"}}}},
  {"data":{"values":[{}]},"mark":{"type":"rule","color":"black","strokeWidth":1},"encoding":{"x":{"datum":-125.5,"type":"quantitative"},"x2":{"datum":100.9},"y":{"datum":0,"type":"quantitative"}}},
  {"data":{"values":[{}]},"mark":{"type":"rule","color":"black","strokeWidth":1},"encoding":{"x":{"datum":0,"type":"quantitative"},"y":{"datum":6900,"type":"quantitative"},"y2":{"datum":-13050}}},
  {"data":{"values":[{}]},"mark":{"type":"text","text":"Vm (mV)","align":"left","baseline":"bottom","dy":-3,"fontSize":10,"color":"black"},"encoding":{"x":{"datum":-125.5,"type":"quantitative"},"y":{"datum":0,"type":"quantitative"}}},
  {"data":{"values":[{}]},"mark":{"type":"text","text":"I (pA)","align":"center","baseline":"bottom","dy":-4,"fontSize":10,"color":"black"},"encoding":{"x":{"datum":0,"type":"quantitative"},"y":{"datum":6900,"type":"quantitative"}}}
 ]
},
{
 "width":300,"height":197,
 "title":{"text":"C α4β2","offset":0,"dx":-17},
 "layer":[
  {"data":{"values":[{"v":-86.4,"i":-4720},{"v":-80,"i":-4110},{"v":-73.8,"i":-3333},{"v":-67.5,"i":-2667},{"v":-61.1,"i":-2167},{"v":-54.8,"i":-1667},{"v":-48.5,"i":-1222},{"v":-42.2,"i":-889},{"v":-35.9,"i":-556},{"v":-29.6,"i":-333},{"v":-23.3,"i":-167},{"v":-17,"i":-78},{"v":-10.7,"i":-33},{"v":-0.6,"i":0},{"v":24.6,"i":22},{"v":49.8,"i":55},{"v":59.9,"i":111},{"v":70,"i":200}]},
   "mark":{"type":"line","color":"black","strokeWidth":1.8,"strokeDash":[1.5,1.2],"interpolate":"monotone"},
   "encoding":{
    "x":{"field":"v","type":"quantitative","scale":{"domain":[-111.6,115.4],"nice":false,"zero":false},"axis":{"orient":"bottom","offset":-165.3,"title":null,"values":[-100,-75,-50,-25,25,50,75],"labelExpr":"datum.value % 50 === 0 ? replace(datum.label, '\u2212', '-') : ''"}},
    "y":{"field":"i","type":"quantitative","scale":{"domain":[-5510,1057],"nice":false,"zero":false},"axis":{"orient":"left","offset":-147.5,"title":null,"values":[-5000,-4000,-3000,-2000,-1000],"labelExpr":"datum.value % 2000 === 0 ? replace(replace(datum.label, '\u2212', '-'), ',', '') : ''"}}}},
  {"data":{"values":[{}]},"mark":{"type":"rule","color":"black","strokeWidth":1},"encoding":{"x":{"datum":-109.5,"type":"quantitative"},"x2":{"datum":84.3},"y":{"datum":0,"type":"quantitative"}}},
  {"data":{"values":[{}]},"mark":{"type":"rule","color":"black","strokeWidth":1},"encoding":{"x":{"datum":0,"type":"quantitative"},"y":{"datum":980,"type":"quantitative"},"y2":{"datum":-5500}}},
  {"data":{"values":[{}]},"mark":{"type":"text","text":"Vm (mV)","align":"left","baseline":"bottom","dy":-3,"fontSize":10,"color":"black"},"encoding":{"x":{"datum":-109.5,"type":"quantitative"},"y":{"datum":0,"type":"quantitative"}}},
  {"data":{"values":[{}]},"mark":{"type":"text","text":"I (nA)","align":"center","baseline":"bottom","dy":-4,"fontSize":10,"color":"black"},"encoding":{"x":{"datum":0,"type":"quantitative"},"y":{"datum":980,"type":"quantitative"}}}
 ]
},
{
 "width":290,"height":197,
 "title":{"text":"D α3β4","offset":2,"dx":-13},
 "layer":[
  {"data":{"values":[{"v":-76.5,"i":-7085},{"v":-68.1,"i":-5721},{"v":-60.3,"i":-4403},{"v":-52.5,"i":-3085},{"v":-47.3,"i":-2310},{"v":-42.1,"i":-1690},{"v":-35.6,"i":-1147},{"v":-29.1,"i":-682},{"v":-22.6,"i":-372},{"v":-16.1,"i":-140},{"v":-8.3,"i":93},{"v":0.2,"i":171},{"v":9.8,"i":124},{"v":22.8,"i":47},{"v":35.8,"i":47},{"v":48.8,"i":78},{"v":61.8,"i":93},{"v":81.3,"i":140}]},
   "mark":{"type":"line","color":"black","strokeWidth":2,"strokeDash":[1.5,1],"interpolate":"monotone"},
   "encoding":{
    "x":{"field":"v","type":"quantitative","scale":{"domain":[-99.3,126.7],"nice":false,"zero":false},"axis":{"orient":"bottom","offset":-175,"title":null,"values":[-75,-50,-25,25,50,75,100],"labelExpr":"datum.value % 50 === 0 ? replace(datum.label, '\u2212', '-') : ''"}},
    "y":{"field":"i","type":"quantitative","scale":{"domain":[-8140,1023],"nice":false,"zero":false},"axis":{"orient":"left","offset":-127.4,"title":null,"values":[-8000,-7000,-6000,-5000,-4000,-3000,-2000,-1000],"labelExpr":"datum.value % 2000 === 0 ? replace(replace(datum.label, '\u2212', '-'), ',', '') : ''"}}}},
  {"data":{"values":[{}]},"mark":{"type":"rule","color":"black","strokeWidth":1},"encoding":{"x":{"datum":-90.2,"type":"quantitative"},"x2":{"datum":109.8},"y":{"datum":0,"type":"quantitative"}}},
  {"data":{"values":[{}]},"mark":{"type":"rule","color":"black","strokeWidth":1},"encoding":{"x":{"datum":0,"type":"quantitative"},"y":{"datum":1000,"type":"quantitative"},"y2":{"datum":-8000}}},
  {"data":{"values":[{}]},"mark":{"type":"text","text":"Vm (mV)","align":"left","baseline":"bottom","dy":-3,"fontSize":10,"color":"black"},"encoding":{"x":{"datum":-90.2,"type":"quantitative"},"y":{"datum":0,"type":"quantitative"}}},
  {"data":{"values":[{}]},"mark":{"type":"text","text":"I (nA)","align":"center","baseline":"bottom","dy":-4,"fontSize":10,"color":"black"},"encoding":{"x":{"datum":0,"type":"quantitative"},"y":{"datum":1000,"type":"quantitative"}}}
 ]
},
{
 "width":300,"height":200,
 "title":{"text":"E α4β2","offset":4,"dx":-17},
 "encoding":{
  "x":{"field":"c","type":"nominal","axis":null,"scale":{"type":"band","domain":["Control","Spermine"],"paddingInner":0,"paddingOuter":0.2336,"align":0.822}},
  "xOffset":{"field":"t","type":"quantitative","scale":{"domain":[0,233.8],"nice":false,"zero":false}},
  "y":{"field":"r","type":"nominal","axis":null,"scale":{"type":"band","domain":["r1","r2","r3","r4"],"paddingInner":0,"paddingOuter":0.959,"align":0.369}},
  "yOffset":{"field":"i","type":"quantitative","scale":{"domain":[-5.746,5.746],"nice":false,"zero":false,"reverse":true}}
 },
 "layer":[
  {"data":{"name":"eBase"},"mark":{"type":"line","color":"black","strokeWidth":0.8,"strokeDash":[1,2]},"encoding":{"detail":[{"field":"c"},{"field":"r"}],"order":{"field":"t","type":"quantitative"}}},
  {"data":{"name":"eTr"},"mark":{"type":"line","color":"black","strokeWidth":1},"encoding":{"detail":[{"field":"c"},{"field":"r"}],"order":{"field":"t","type":"quantitative"}}},
  {"data":{"values":[{"c":"Control","r":"r1","t":0,"i":0,"lab":"55"},{"c":"Control","r":"r2","t":0,"i":0,"lab":"20"},{"c":"Control","r":"r3","t":0,"i":0,"lab":"-25"},{"c":"Control","r":"r4","t":0,"i":0,"lab":"-65"},{"c":"Spermine","r":"r1","t":0,"i":0,"lab":"50"},{"c":"Spermine","r":"r2","t":0,"i":0,"lab":"20"},{"c":"Spermine","r":"r3","t":0,"i":0,"lab":"-25"},{"c":"Spermine","r":"r4","t":0,"i":0,"lab":"-50"}]},
   "mark":{"type":"text","align":"right","baseline":"middle","dx":-5,"fontSize":9.5,"color":"black"},
   "encoding":{"text":{"field":"lab"}}},
  {"data":{"values":[{"c":"Control","r":"r1","t":66,"i":11.5,"lab":"Control"},{"c":"Spermine","r":"r1","t":64.8,"i":11.5,"lab":"Spermine"}]},
   "mark":{"type":"text","align":"center","baseline":"middle","fontSize":10,"color":"black"},
   "encoding":{"text":{"field":"lab"}}},
  {"data":{"values":[{"c":"Spermine","r":"r4","t":123,"i":-10.3},{"c":"Spermine","r":"r4","t":173,"i":-10.3},{"c":"Spermine","r":"r4","t":173.01,"i":-5.3}]},
   "mark":{"type":"line","color":"black","strokeWidth":1},"encoding":{"order":{"field":"t","type":"quantitative"}}},
  {"data":{"values":[{"c":"Spermine","r":"r4","t":178,"i":-7.8,"lab":"5 pA"}]},
   "mark":{"type":"text","align":"left","baseline":"middle","fontSize":9.5,"color":"black"},
   "encoding":{"text":{"field":"lab"}}},
  {"data":{"values":[{"c":"Spermine","r":"r4","t":148,"i":-12.8,"lab":"50 ms"}]},
   "mark":{"type":"text","align":"center","baseline":"middle","fontSize":9.5,"color":"black"},
   "encoding":{"text":{"field":"lab"}}}
 ]
},
{
 "width":290,"height":200,
 "title":{"text":"F α3β4","offset":6,"dx":-15},
 "encoding":{
  "x":{"field":"c","type":"nominal","axis":null,"scale":{"type":"band","domain":["Control","Spermine"],"paddingInner":0,"paddingOuter":0.3147,"align":0.961}},
  "xOffset":{"field":"t","type":"quantitative","scale":{"domain":[0,380.3],"nice":false,"zero":false}},
  "y":{"field":"r","type":"nominal","axis":null,"scale":{"type":"band","domain":["r1","r2","r3","r4"],"paddingInner":0,"paddingOuter":0.841,"align":0.5625}},
  "yOffset":{"field":"i","type":"quantitative","scale":{"domain":[-5.086,5.086],"nice":false,"zero":false,"reverse":true}}
 },
 "layer":[
  {"data":{"name":"fBase"},"mark":{"type":"line","color":"black","strokeWidth":0.8,"strokeDash":[1,2]},"encoding":{"detail":[{"field":"c"},{"field":"r"}],"order":{"field":"t","type":"quantitative"}}},
  {"data":{"name":"fTr"},"mark":{"type":"line","color":"black","strokeWidth":1.3},"encoding":{"detail":[{"field":"c"},{"field":"r"}],"order":{"field":"t","type":"quantitative"}}},
  {"data":{"values":[{"c":"Control","r":"r1","t":0,"i":0,"lab":"87"},{"c":"Control","r":"r2","t":0,"i":0,"lab":"37"},{"c":"Control","r":"r3","t":0,"i":0,"lab":"-36"},{"c":"Control","r":"r4","t":0,"i":0,"lab":"-80"},{"c":"Spermine","r":"r1","t":0,"i":0,"lab":"72"},{"c":"Spermine","r":"r2","t":0,"i":0,"lab":"33"},{"c":"Spermine","r":"r3","t":0,"i":0,"lab":"-49"},{"c":"Spermine","r":"r4","t":0,"i":0,"lab":"-79"}]},
   "mark":{"type":"text","align":"right","baseline":"middle","dx":-4,"fontSize":10,"color":"black"},
   "encoding":{"text":{"field":"lab"}}},
  {"data":{"values":[{"c":"Control","r":"r1","t":124,"i":13.35,"lab":"Control"},{"c":"Spermine","r":"r1","t":116,"i":13.35,"lab":"Spermine"}]},
   "mark":{"type":"text","align":"center","baseline":"middle","fontSize":10,"color":"black"},
   "encoding":{"text":{"field":"lab"}}},
  {"data":{"values":[{"c":"Spermine","r":"r4","t":223,"i":-7.4},{"c":"Spermine","r":"r4","t":323,"i":-7.4},{"c":"Spermine","r":"r4","t":323.01,"i":-2.4}]},
   "mark":{"type":"line","color":"black","strokeWidth":1},"encoding":{"order":{"field":"t","type":"quantitative"}}},
  {"data":{"values":[{"c":"Spermine","r":"r4","t":331,"i":-4.9,"lab":"5 pA"}]},
   "mark":{"type":"text","align":"left","baseline":"middle","fontSize":10,"color":"black"},
   "encoding":{"text":{"field":"lab"}}},
  {"data":{"values":[{"c":"Spermine","r":"r4","t":273,"i":-10.9,"lab":"100 ms"}]},
   "mark":{"type":"text","align":"center","baseline":"middle","fontSize":10,"color":"black"},
   "encoding":{"text":{"field":"lab"}}}
 ]
}
]
}
